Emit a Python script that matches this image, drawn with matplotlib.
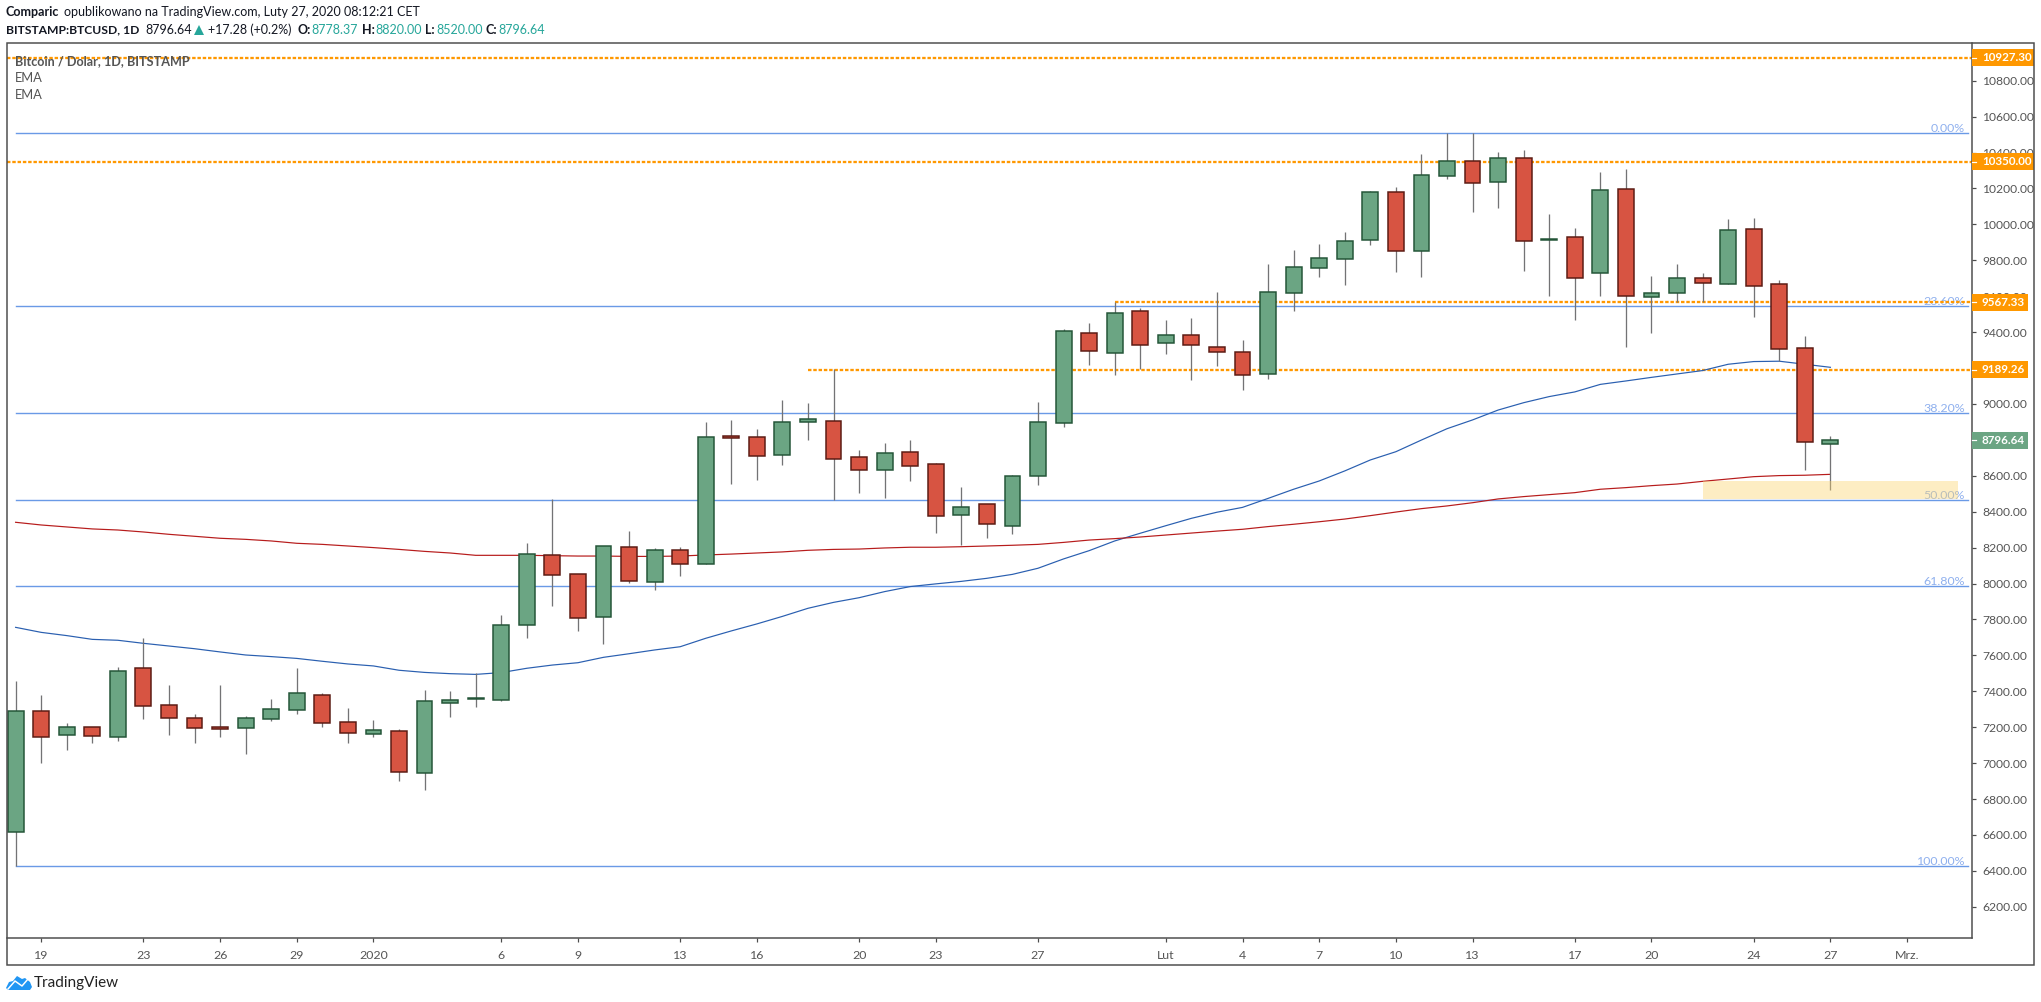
import matplotlib
matplotlib.use("Agg")
import matplotlib.pyplot as plt
from matplotlib.lines import Line2D
from matplotlib.patches import Rectangle, Polygon
from matplotlib.transforms import blended_transform_factory

W, H = 2041, 1002

# daily OHLC, 18 Dec 2019 - 27 Feb 2020
opens = [6618, 7288, 7158, 7199, 7147, 7528, 7322, 7249, 7199, 7197, 7247, 7297,
         7377, 7227, 7164, 7177, 6947, 7337, 7359, 7353, 7771, 8157, 8051, 7815,
         8202, 8010, 8185, 8107, 8820, 8814, 8718, 8901, 8903, 8703, 8634, 8731,
         8664, 8383, 8441, 8322, 8601, 8896, 9393, 9286, 9516, 9341, 9382, 9315,
         9288, 9169, 9620, 9759, 9806, 9911, 10179, 9854, 10272, 10351, 10234, 10368,
         9911, 9928, 9728, 10195, 9594, 9616, 9700, 9666, 9973, 9666, 9310, 8778.37]
highs = [7457, 7379, 7223, 7199, 7535, 7695, 7435, 7271, 7435, 7262, 7357, 7530,
         7392, 7307, 7240, 7188, 7407, 7401, 7500, 7825, 8226, 8470, 8051, 8207,
         8293, 8196, 8203, 8898, 8909, 8861, 9022, 9005, 9193, 8744, 8783, 8799,
         8669, 8538, 8441, 8604, 9011, 9418, 9451, 9570, 9535, 9468, 9479, 9624,
         9356, 9780, 9858, 9888, 9958, 10186, 10208, 10392, 10507, 10507, 10403, 10414,
         10058, 9980, 10292, 10309, 9713, 9780, 9729, 10030, 10036, 9689, 9379, 8820]
lows = [6425, 7000, 7075, 7114, 7123, 7245, 7156, 7112, 7145, 7051, 7234, 7273,
        7201, 7112, 7145, 6900, 6850, 7257, 7312, 7346, 7697, 7875, 7736, 7663,
        8003, 7964, 8042, 8107, 8556, 8578, 8662, 8799, 8463, 8506, 8478, 8573,
        8281, 8215, 8254, 8276, 8549, 8872, 9217, 9161, 9193, 9278, 9134, 9212,
        9078, 9139, 9518, 9707, 9663, 9887, 9735, 9709, 10255, 10071, 10093, 9741,
        9603, 9470, 9603, 9319, 9397, 9570, 9570, 9666, 9486, 9237, 8634, 8520]
closes = [7288, 7147, 7199, 7153, 7511, 7320, 7253, 7197, 7192, 7249, 7299, 7388,
          7225, 7169, 7182, 6952, 7344, 7350, 7362, 7767, 8163, 8049, 7810, 8207,
          8016, 8185, 8107, 8814, 8812, 8712, 8898, 8914, 8695, 8630, 8725, 8656,
          8378, 8424, 8333, 8597, 8898, 9405, 9297, 9505, 9330, 9382, 9330, 9291,
          9163, 9622, 9761, 9811, 9906, 10179, 9854, 10273, 10351, 10229, 10368, 9906,
          9917, 9700, 10190, 9600, 9616, 9700, 9672, 9967, 9655, 9304, 8786, 8796.64]

ema_blue = [7756, 7728, 7710, 7689, 7684, 7667, 7652, 7637, 7619, 7602, 7593, 7583,
            7567, 7552, 7541, 7517, 7505, 7498, 7494, 7504, 7528, 7546, 7559, 7589,
            7609, 7630, 7648, 7695, 7736, 7775, 7817, 7862, 7895, 7921, 7955, 7983,
            7998, 8012, 8029, 8051, 8085, 8137, 8183, 8237, 8280, 8322, 8363, 8397,
            8424, 8474, 8525, 8571, 8627, 8688, 8734, 8799, 8862, 8911, 8966, 9007,
            9041, 9067, 9109, 9128, 9148, 9167, 9186, 9221, 9236, 9238, 9221, 9204]
ema_red = [8341, 8326, 8315, 8304, 8298, 8287, 8274, 8263, 8252, 8246, 8237, 8224,
           8218, 8209, 8200, 8190, 8179, 8170, 8157, 8157, 8157, 8155, 8153, 8153,
           8151, 8151, 8153, 8159, 8164, 8170, 8176, 8185, 8190, 8192, 8198, 8202,
           8202, 8205, 8209, 8213, 8218, 8229, 8242, 8250, 8259, 8270, 8281, 8292,
           8302, 8317, 8330, 8344, 8359, 8378, 8398, 8417, 8432, 8450, 8471, 8484,
           8495, 8506, 8525, 8534, 8545, 8554, 8569, 8582, 8595, 8601, 8603, 8608]

# fibonacci levels
fib_labels = ["0.00%", "23.60%", "38.20%", "50.00%", "61.80%", "100.00%"]
fib_prices = [10507, 9544, 8948, 8466, 7984, 6425]

# orange support / resistance: price, first bar
level_prices = [10927.30, 10350.00, 9567.33, 9189.26]
level_starts = [-0.356, -0.356, 43, 31]

zone_bars = [66, 76]
zone_prices = [8471, 8571]

price_ticks = list(range(6200, 11000, 200))
date_ticks = [1, 5, 8, 11, 14, 19, 22, 26, 29, 33, 36, 40, 45, 48, 51, 54, 57, 61, 64, 68, 71, 74]
date_labels = ["19", "23", "26", "29", "2020", "6", "9", "13", "16", "20", "23", "27",
               "Lut", "4", "7", "10", "13", "17", "20", "24", "27", "Mrz."]

UP, DOWN = "#6ba583", "#d75442"
UP_EDGE, DOWN_EDGE = "#225437", "#5b1a13"
WICK = "#737375"
ORANGE = "#ff9800"
FIB = "#6a9ae6"
FRAME = "#4c4c4c"
TEXT = "#131722"
TEAL = "#26a69a"
FONT = "Lato"
PX = 0.72  # one pixel in points at dpi 100

plt.rcParams["font.family"] = FONT

fig = plt.figure(figsize=(W / 100, H / 100), dpi=100)
ax = fig.add_axes([6.5 / W, 1 - 938 / H, (1972 - 6.5) / W, (938 - 43) / H])
ax.set_xlim(-0.356, 76.54)
ax.set_ylim(6026, 11010)


def ftext(x, y, s, **kw):
    """ Text placed in image pixels. """
    kw.setdefault("va", "center")
    kw.setdefault("fontsize", 9.0)
    kw.setdefault("color", TEXT)
    return fig.text(x / W, 1 - y / H, s, **kw)


days = list(range(len(opens)))

for p, lab in zip(fib_prices, fib_labels):
    ax.plot([0, 76.4], [p, p], color=FIB, lw=1.4 * PX, zorder=1)
    ax.text(76.27, p - 4, lab, color="#8fb0ee", ha="right", va="bottom", fontsize=8.9, zorder=2)

for p, s in zip(level_prices, level_starts):
    ax.plot([s, 76.54], [p, p], color=ORANGE, lw=2.3 * PX, ls=(0, (1.5, 0.8)), zorder=2)

ax.plot(days, ema_blue, color="#2a5fb0", lw=1.2 * PX, zorder=3)
ax.plot(days, ema_red, color="#b71c1c", lw=1.2 * PX, zorder=3)

ax.vlines(days, lows, highs, color=WICK, lw=1.3 * PX, zorder=4)
for d, o, c in zip(days, opens, closes):
    up = c >= o
    ax.bar(d, abs(c - o), bottom=min(o, c), width=0.62,
           color=UP if up else DOWN, edgecolor=UP_EDGE if up else DOWN_EDGE,
           linewidth=1.5 * PX, zorder=5)

ax.add_patch(Rectangle((zone_bars[0], zone_prices[0]), zone_bars[1] - zone_bars[0],
                       zone_prices[1] - zone_prices[0], color="#fbd36b", alpha=0.4, lw=0, zorder=6))

# axes look
for side in ["left", "top"]:
    ax.spines[side].set_visible(False)
for side in ["right", "bottom"]:
    ax.spines[side].set_color(FRAME)
    ax.spines[side].set_linewidth(1.5 * PX)
ax.yaxis.tick_right()
ax.set_yticks(price_ticks)
ax.set_yticklabels(["%.2f" % p for p in price_ticks])
ax.set_xticks(date_ticks)
ax.set_xticklabels(date_labels)
ax.tick_params(axis="y", length=4 * PX, width=1.2 * PX, color=FRAME, labelcolor="#555555",
               labelsize=8.7, pad=6 * PX)
ax.tick_params(axis="x", length=4 * PX, width=1.2 * PX, color=FRAME, labelcolor="#555555",
               labelsize=8.9, pad=8 * PX)

# boxes on the price scale
box_h = 17 / 0.17955
trans = blended_transform_factory(ax.transAxes, ax.transData)
box_w = 62 / (1972 - 6.5)
short_w = 56 / (1972 - 6.5)
box_prices = level_prices + [closes[-1]]
box_cols = [ORANGE, ORANGE, ORANGE, ORANGE, UP]
for p, col in zip(box_prices, box_cols):
    w = box_w if p >= 10000 else short_w
    ax.add_patch(Rectangle((1, p - box_h / 2), w, box_h, transform=trans, color=col,
                           lw=0, clip_on=False, zorder=10))
    ax.plot([1, 1 + 4 / (1972 - 6.5)], [p, p], transform=trans, color="white",
            lw=1.2 * PX, clip_on=False, zorder=11)
    ax.text(1 + 10 / (1972 - 6.5), p, "%.2f" % p, transform=trans, color="white", fontsize=8.4,
            fontweight="bold", va="center", ha="left", clip_on=False, zorder=11)

# outer frame
fig.add_artist(Rectangle((6.5 / W, 1 - 965 / H), (2034 - 6.5) / W, (965 - 43) / H,
                         transform=fig.transFigure, fill=False, edgecolor=FRAME, lw=1.5 * PX))

# header
ftext(6, 12, "Comparic", fontweight="bold")
ftext(64, 12, "opublikowano na TradingView.com, Luty 27, 2020 08:12:21 CET")
ftext(6, 30, "BITSTAMP:BTCUSD, 1D", fontweight="bold", fontsize=8.7)
ftext(145, 30, "8796.64")
ftext(208, 30, "+17.28 (+0.2%)")
for x, s in [(297, "O:"), (362, "H:"), (425, "L:"), (486, "C:")]:
    ftext(x, 30, s, fontweight="bold")
for x, s in [(311, "8778.37"), (375, "8820.00"), (436, "8520.00"), (498, "8796.64")]:
    ftext(x, 30, s, color=TEAL)
fig.add_artist(Polygon([(194 / W, 1 - 35 / H), (204 / W, 1 - 35 / H), (199 / W, 1 - 25 / H)],
                       transform=fig.transFigure, color=TEAL, lw=0))

# pane legend
ftext(15, 61, "Bitcoin / Dolar, 1D, BITSTAMP", fontweight="bold", color="#555555", fontsize=9.1)
ftext(15, 78, "EMA", color="#555555", fontsize=9.3)
ftext(15, 95, "EMA", color="#555555", fontsize=9.3)

# logo
logo = [(6, 988), (9, 982), (13, 981), (17, 976), (22, 979), (25, 978), (30, 982), (32, 987), (30, 990), (8, 990)]
fig.add_artist(Polygon([(x / W, 1 - y / H) for x, y in logo], transform=fig.transFigure,
                       color="#2196f3", lw=0))
zig = [(8, 989), (15, 981), (22, 986), (28, 979)]
fig.add_artist(Line2D([x / W for x, y in zig], [1 - y / H for x, y in zig], transform=fig.transFigure,
                      color="white", lw=1.5 * PX))
ftext(34, 983, "TradingView", fontsize=11, color="#222222")

fig.savefig("out.png", dpi=100)
